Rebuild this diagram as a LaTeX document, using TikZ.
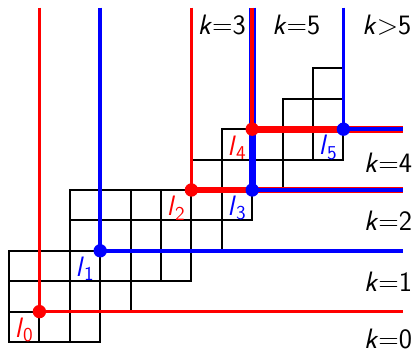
\documentclass[tikz,border=0pt]{standalone}
\begin{document}
\begin{tikzpicture}[scale=0.8,
	every node/.style={font=\sffamily\fontsize{21}{25}\selectfont, inner sep=0pt},
	cell/.style={line width=1.5pt},
	thinpath/.style={line width=2.8pt},
	thickpath/.style={line width=5.2pt}]
	% 边界
	\useasboundingbox (-0.296,-0.395) rectangle (13.355,11.25);
	
	% 方格 (行/起列/止列)
	\foreach \r/\a/\b in {0/0/2, 1/0/3, 2/0/5, 3/2/6, 4/2/7, 5/6/8, 6/7/10, 7/9/10, 8/10/10}
		\foreach \c in {\a,...,\b}
			\draw[cell] (\c,\r) rectangle ++(1,1);
	
	% 转折点
	\coordinate (p0) at (1,1);
	\coordinate (p1) at (3,3);
	\coordinate (p2) at (6,5);
	\coordinate (p3) at (8,5);
	\coordinate (p4) at (8,7);
	\coordinate (p5) at (11,7);
	
	% 上端与右端
	\coordinate (t0) at (1,11);
	\coordinate (t1) at (3,11);
	\coordinate (t2) at (6,11);
	\coordinate (t3) at (8,11);
	\coordinate (t5) at (11,11);
	\coordinate (e0) at (12.95,1);
	\coordinate (e1) at (12.95,3);
	\coordinate (e2) at (12.95,5);
	\coordinate (e4) at (12.95,7);
	
	% 重合的部分用粗线
	\draw[thickpath, red] (p2) -- (e2);
	\draw[thickpath, blue] (t3) -- (p3);
	\draw[thickpath, red] (p4) -- (e4);
	
	% 细线
	\draw[thinpath, red] (t0) -- (p0) -- (e0);
	\draw[thinpath, blue] (t1) -- (p1) -- (e1);
	\draw[thinpath, red] (t2) -- (p2);
	\draw[thinpath, blue] (p3) -- (e2);
	\draw[thinpath, red] (t3) -- (p4);
	\draw[thinpath, blue] (t5) -- (p5) -- (e4);
	
	% 圆点与标注
	\foreach \i/\col in {0/red, 1/blue, 2/red, 3/blue, 4/red, 5/blue} {
		\fill[\col] (p\i) circle (0.22);
		\node[text=\col] (n\i) at ([shift={(-0.5,-0.6)}]p\i) {\textit{l}\textsubscript{\i}};
	}
	
	% k 的取值
	\node (k3) at (7,10.43) {\textit{k}=3};
	\node (k5) at (9.45,10.43) {\textit{k}=5};
	\node (kg5) at (12.43,10.43) {\textit{k}>5};
	\node[anchor=east] (k4) at (13.27,5.88) {\textit{k}=4};
	\node[anchor=east] (k2) at (13.27,3.98) {\textit{k}=2};
	\node[anchor=east] (k1) at (13.27,1.97) {\textit{k}=1};
	\node[anchor=east] (k0) at (13.27,0.1) {\textit{k}=0};
	
\end{tikzpicture}
\end{document}
